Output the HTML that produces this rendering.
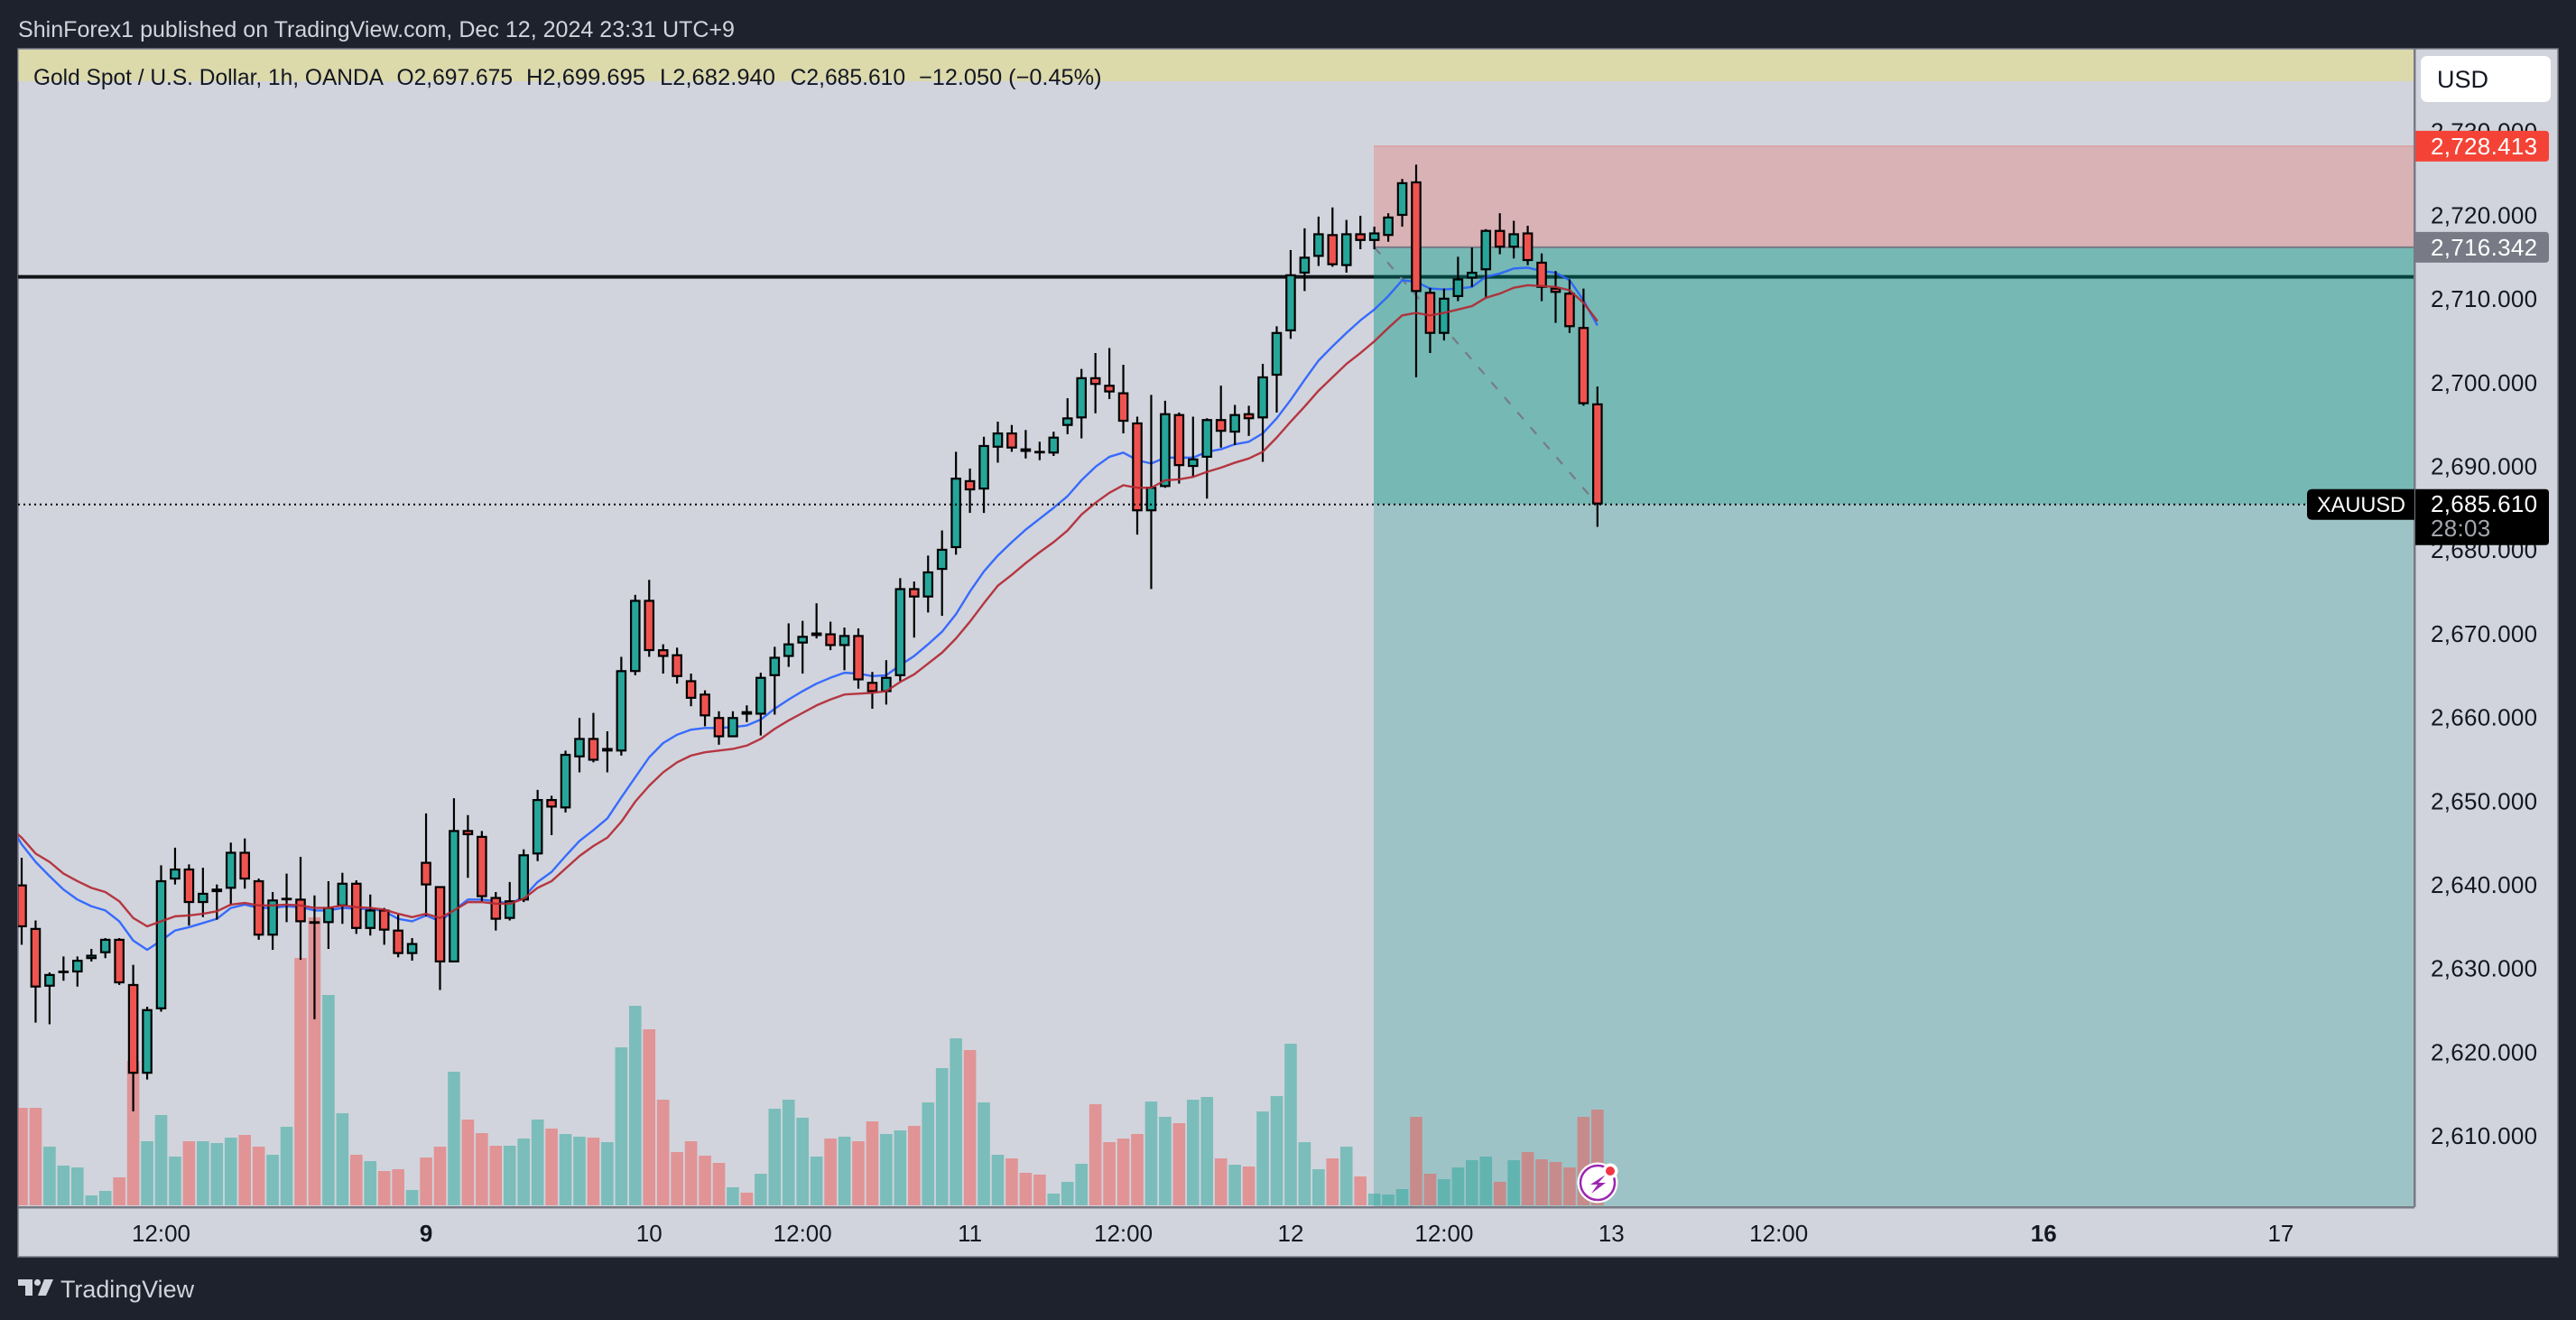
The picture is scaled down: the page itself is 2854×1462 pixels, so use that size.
<!DOCTYPE html>
<html lang="en">
<head>
<meta charset="utf-8">
<title>Gold Spot / U.S. Dollar chart</title>
<style>
html,body{margin:0;padding:0;background:#1e222d;width:2854px;height:1462px;overflow:hidden}
svg{display:block;position:absolute;left:0;top:0}
text{font-family:"Liberation Sans",sans-serif}
</style>
</head>
<body>
<svg id="chart" xmlns="http://www.w3.org/2000/svg" width="2854" height="1462" viewBox="0 0 2854 1462">
  <defs>
    <clipPath id="paneClip"><rect x="20" y="54" width="2655" height="1282"></rect></clipPath>
  </defs>
  <rect x="0" y="0" width="2854" height="1462" fill="#1e222d"></rect>
  <text x="20" y="41" font-size="25" fill="#d1d4dc" textLength="794" lengthAdjust="spacingAndGlyphs">ShinForex1 published on TradingView.com, Dec 12, 2024 23:31 UTC+9</text>
  <rect x="20" y="54" width="2814" height="1338" fill="#d1d4dc" stroke="#787b86" stroke-width="1.5"></rect>
  <rect x="20.5" y="55" width="2654" height="35" fill="#dcd9ab"></rect>
  <g id="paneLayer" clip-path="url(#paneClip)"></g>
  <rect x="20" y="1336" width="2655" height="2.5" fill="#787b86"></rect>
  <rect x="2674" y="54" width="2.5" height="1283" fill="#787b86"></rect>
  <g font-size="25" fill="#131722">
    <text x="37" y="94" textLength="388" lengthAdjust="spacingAndGlyphs">Gold Spot / U.S. Dollar, 1h, OANDA</text>
    <text x="439.5" y="94" textLength="128.5" lengthAdjust="spacingAndGlyphs">O2,697.675</text>
    <text x="583" y="94" textLength="132" lengthAdjust="spacingAndGlyphs">H2,699.695</text>
    <text x="731" y="94" textLength="128" lengthAdjust="spacingAndGlyphs">L2,682.940</text>
    <text x="875.6" y="94" textLength="127.5" lengthAdjust="spacingAndGlyphs">C2,685.610</text>
    <text x="1018" y="94" textLength="202.5" lengthAdjust="spacingAndGlyphs">−12.050 (−0.45%)</text>
  </g>
  <g id="axisLayer"></g>
  <g>
    <rect x="2682" y="62" width="144" height="51" rx="7" fill="#ffffff"></rect>
    <text x="2700" y="97" font-size="27" fill="#131722">USD</text>
  </g>
  <g id="labelLayer"></g>
  <g>
    <circle cx="1770" cy="1310" r="22.5" fill="#ffffff"></circle>
    <circle cx="1770" cy="1310" r="19" fill="none" stroke="#9c27b0" stroke-width="2.5"></circle>
    <polygon points="1779,1301 1762,1312 1770,1312 1763,1322 1779,1310 1771,1310" fill="#9c27b0"></polygon>
    <circle cx="1784" cy="1297" r="8.5" fill="#ffffff"></circle>
    <circle cx="1784" cy="1297" r="5" fill="#f23645"></circle>
  </g>
  <g>
    <polygon points="20,1417 36,1417 36,1435 28,1435 28,1424 20,1424" fill="#d1d4dc"></polygon>
    <circle cx="41.5" cy="1420.5" r="3.6" fill="#d1d4dc"></circle>
    <polygon points="49,1417 59,1417 51,1435 42,1435" fill="#d1d4dc"></polygon>
    <text x="67" y="1437" font-size="27" fill="#d1d4dc" textLength="148" lengthAdjust="spacingAndGlyphs">TradingView</text>
  </g>
</svg>
<script>
const candleOpen = [
2640.2,2635.0,2628.0,2629.8,2629.7,2631.3,2632.0,2633.7,2628.3,2617.6,
2625.3,2640.8,2642.1,2638.0,2639.3,2639.7,2644.1,2640.7,2634.1,2638.5,
2638.5,2635.8,2635.6,2637.6,2640.4,2634.9,2637.2,2634.8,2631.9,2642.9,
2640.0,2630.9,2646.7,2646.0,2638.7,2636.1,2638.3,2643.8,2650.4,2649.3,
2655.4,2657.7,2656.1,2656.1,2665.6,2674.2,2668.3,2667.7,2664.6,2663.0,
2660.2,2657.8,2660.9,2660.5,2665.1,2667.4,2669.0,2669.9,2670.2,2668.7,
2670.0,2664.4,2663.2,2665.1,2675.6,2674.5,2677.8,2680.4,2688.5,2687.4,
2692.4,2694.2,2692.3,2692.0,2691.7,2695.0,2695.9,2700.8,2699.9,2699.0,
2695.4,2684.8,2687.7,2696.4,2690.1,2691.2,2695.8,2694.2,2696.5,2695.9,
2701.0,2706.3,2713.2,2715.2,2717.9,2714.1,2718.0,2717.1,2717.7,2720.1,
2724.2,2711.0,2706.0,2710.4,2712.6,2713.6,2718.4,2716.3,2718.1,2714.6,
2711.5,2710.9,2706.8,2697.675];
const candleHigh = [
2643.4,2635.9,2629.7,2631.6,2631.6,2632.5,2633.8,2633.8,2630.6,2625.6,
2642.5,2644.6,2642.6,2642.2,2640.2,2645.2,2645.7,2640.9,2639.3,2641.5,
2643.5,2638.9,2640.6,2641.6,2640.7,2639.0,2637.4,2636.6,2633.8,2648.7,
2640.0,2650.5,2648.5,2646.6,2639.3,2640.5,2644.4,2651.5,2650.8,2656.2,
2660.1,2660.7,2658.5,2667.4,2674.8,2676.6,2668.9,2668.5,2665.4,2663.4,
2660.9,2660.9,2661.6,2665.5,2668.6,2671.4,2671.7,2673.8,2671.6,2670.9,
2670.8,2665.6,2667.0,2676.8,2676.4,2679.5,2682.5,2691.9,2689.9,2693.7,
2695.5,2695.1,2694.5,2693.1,2694.3,2698.3,2701.8,2703.7,2704.3,2702.3,
2696.1,2698.7,2698.0,2696.6,2696.1,2695.9,2699.8,2697.5,2697.4,2702.4,
2706.9,2716.0,2718.6,2720.0,2721.1,2719.6,2720.1,2718.8,2720.4,2724.5,
2726.2,2711.5,2711.4,2715.2,2716.3,2718.5,2720.4,2719.5,2718.9,2715.6,
2713.5,2712.5,2711.4,2699.695];
const candleLow = [
2633.0,2623.7,2623.5,2628.7,2628.0,2631.0,2631.4,2628.2,2613.1,2616.9,
2625.0,2640.2,2635.3,2636.3,2636.0,2637.7,2639.7,2633.6,2632.4,2635.7,
2631.2,2624.1,2632.5,2635.5,2634.3,2634.1,2633.0,2631.5,2631.1,2636.4,
2627.6,2630.9,2641.0,2638.2,2634.7,2635.9,2638.1,2643.0,2646.1,2648.8,
2653.6,2654.8,2653.6,2655.6,2665.2,2667.4,2665.4,2664.2,2661.5,2659.1,
2656.9,2657.8,2659.6,2658.0,2660.5,2666.2,2665.4,2669.6,2668.2,2665.8,
2663.6,2661.2,2661.7,2664.5,2669.7,2672.7,2672.3,2679.6,2684.6,2684.6,
2690.6,2691.9,2691.1,2690.9,2691.4,2694.0,2693.5,2696.5,2698.2,2694.1,
2682.0,2675.5,2687.6,2688.1,2688.9,2686.3,2692.4,2692.7,2693.8,2690.7,
2696.6,2705.4,2711.1,2714.1,2714.0,2713.3,2716.1,2716.1,2717.0,2718.8,
2700.8,2703.7,2705.2,2709.9,2711.6,2710.3,2715.5,2715.0,2714.2,2709.9,
2707.3,2706.1,2697.4,2682.94];
const candleClose = [
2635.1,2627.9,2629.5,2629.9,2631.2,2631.8,2633.7,2628.4,2617.6,2625.3,
2640.7,2642.1,2638.0,2639.2,2639.7,2644.1,2640.8,2634.1,2638.4,2638.6,
2635.7,2635.7,2637.5,2640.4,2634.9,2637.2,2634.7,2631.9,2633.2,2640.1,
2630.9,2646.7,2646.1,2638.7,2636.0,2638.3,2643.8,2650.4,2649.4,2655.8,
2657.7,2655.0,2656.5,2665.8,2674.2,2668.1,2667.4,2665.0,2662.4,2660.3,
2657.8,2660.2,2660.5,2665.0,2667.4,2669.0,2669.9,2670.3,2668.7,2670.0,
2664.6,2663.2,2665.0,2675.6,2674.5,2677.6,2680.3,2688.8,2687.3,2692.7,
2694.2,2692.3,2691.9,2691.9,2693.7,2696.0,2700.8,2699.9,2699.0,2695.5,
2684.8,2687.7,2696.5,2690.2,2691.1,2695.8,2694.3,2696.4,2695.8,2700.9,
2706.2,2713.1,2715.2,2718.0,2714.2,2718.0,2717.1,2718.1,2720.0,2724.1,
2711.0,2706.0,2710.3,2712.6,2713.4,2718.4,2716.3,2718.0,2714.7,2711.5,
2710.9,2706.8,2697.6,2685.61];
const volumeValues = [
108,108,65,44,42,11,16,31,160,71,
100,54,71,71,69,75,78,65,56,87,
274,319,233,102,56,49,38,40,17,53,
65,148,95,80,66,66,74,95,85,79,
76,75,70,175,221,195,117,59,71,55,
47,20,14,35,107,117,97,54,74,76,
71,93,79,83,88,114,152,185,172,114,
56,52,36,34,13,26,46,112,70,74,
79,115,98,91,117,120,52,45,43,104,
121,179,70,40,52,65,32,13,12,18,
98,35,29,42,50,54,26,50,59,51,
48,42,98,106];
/* The first EMA value belongs to the bar just left of the visible pane. */
const emaFast = [
2647.8,
2645.0,2642.9,2641.2,2639.6,2638.4,2637.6,2637.1,2635.8,2633.5,2632.4,
2633.5,2634.7,2635.1,2635.6,2636.1,2637.4,2637.8,2637.4,2637.4,2637.6,
2637.5,2637.1,2637.1,2637.4,2637.3,2637.3,2637.0,2636.1,2635.8,2636.5,
2635.8,2637.1,2638.4,2638.4,2638.2,2637.9,2638.7,2640.5,2641.7,2643.6,
2645.4,2646.7,2648.1,2650.6,2653.0,2655.4,2657.1,2658.1,2658.7,2658.9,
2658.9,2659.0,2659.2,2659.9,2661.2,2662.3,2663.3,2664.2,2664.9,2665.5,
2665.4,2665.1,2665.2,2666.4,2667.5,2668.9,2670.4,2672.5,2675.2,2677.6,
2679.5,2681.1,2682.6,2683.9,2685.2,2686.6,2688.5,2690.1,2691.3,2691.8,
2690.9,2690.5,2691.2,2691.2,2691.2,2691.9,2692.2,2692.8,2693.1,2694.1,
2695.9,2698.1,2700.5,2702.8,2704.5,2706.1,2707.6,2708.9,2710.5,2712.4,
2712.2,2711.4,2711.3,2711.4,2711.6,2712.8,2713.2,2713.8,2713.9,2713.5,
2713.3,2712.4,2710.0,2707.0];
const emaSlow = [
2647.2,
2645.8,2643.9,2642.9,2641.5,2640.6,2639.8,2639.3,2638.2,2636.2,2635.2,
2635.8,2636.4,2636.5,2636.7,2637.0,2637.8,2638.0,2637.7,2637.7,2637.8,
2637.7,2637.4,2637.4,2637.7,2637.5,2637.4,2637.2,2636.7,2636.3,2636.7,
2636.2,2637.1,2638.1,2638.1,2637.9,2637.9,2638.5,2639.8,2640.6,2642.1,
2643.6,2644.8,2645.8,2647.7,2650.1,2652.0,2653.6,2654.8,2655.6,2656.0,
2656.2,2656.4,2656.8,2657.6,2658.8,2659.8,2660.7,2661.6,2662.3,2662.9,
2663.0,2663.1,2663.3,2664.4,2665.3,2666.6,2667.9,2669.6,2671.6,2673.8,
2675.9,2677.2,2678.6,2679.9,2681.1,2682.5,2684.4,2685.8,2687.0,2687.9,
2687.6,2687.6,2688.5,2688.6,2688.9,2689.5,2690.0,2690.6,2691.1,2691.9,
2693.6,2695.5,2697.3,2699.2,2700.8,2702.4,2703.7,2705.1,2706.7,2708.2,
2708.5,2708.2,2708.5,2708.9,2709.3,2710.3,2710.8,2711.5,2711.8,2711.7,
2711.6,2711.2,2709.7,2707.5];
const priceTicks = [2730,2720,2710,2700,2690,2680,2670,2660,2650,2640,2630,2620,2610];
const timeLabels = ['12:00','9','10','12:00','11','12:00','12','12:00','13','12:00','16','17'];
const timeLabelBars = [10,29,45,56,68,79,91,102,114,126,145,162];
const weekStartLabels = ['9','16'];
const stopPrice = 2728.413;
const entryPrice = 2716.342;
const lastPrice = 2685.61;
const resistancePrice = 2712.8;
const positionStartBar = 97;
const positionEndBar = 113;

const SVG_NS = 'http://www.w3.org/2000/svg';
const paneLayer = document.getElementById('paneLayer');
const axisLayer = document.getElementById('axisLayer');
const labelLayer = document.getElementById('labelLayer');
const paneLeft = 20;
const paneRight = 2675;
const paneBottom = 1336;
const zoneLeft = 1522;

function priceY(p) { return 558.7 + (2685.61 - p) * 9.27; }
function barX(i) { return 24 + 15.45 * i; }
function volumeY(v) { return 1335 - v; }
function fmtPrice(p) { return p.toLocaleString('en-US', { minimumFractionDigits: 3, maximumFractionDigits: 3 }); }
function make(tag, parent, props) {
  const el = document.createElementNS(SVG_NS, tag);
  for (const k in props) el.setAttribute(k, props[k]);
  parent.appendChild(el);
  return el;
}

/* position tool zones */
const stopZone = make('rect', paneLayer, { x: zoneLeft, y: priceY(stopPrice), width: paneRight - zoneLeft, height: priceY(entryPrice) - priceY(stopPrice), fill: '#d9b2b6' });


const profitZone = make('rect', paneLayer, { x: zoneLeft, y: priceY(entryPrice), width: paneRight - zoneLeft, height: priceY(lastPrice) - priceY(entryPrice), fill: '#76b8b4' });


const targetZone = make('rect', paneLayer, { x: zoneLeft, y: priceY(lastPrice), width: paneRight - zoneLeft, height: paneBottom - priceY(lastPrice), fill: '#9ec3c6' });


const stopEdge = make('line', paneLayer, { x1: zoneLeft, x2: paneRight, y1: priceY(stopPrice), y2: priceY(stopPrice), stroke: '#d9a0a2', 'stroke-width': 1.5 });


const entryLine = make('line', paneLayer, { x1: zoneLeft, x2: paneRight, y1: priceY(entryPrice), y2: priceY(entryPrice), stroke: '#787b86', 'stroke-width': 2 });



/* horizontal level */
const levelLeft = make('line', paneLayer, { x1: paneLeft, x2: zoneLeft, y1: priceY(resistancePrice), y2: priceY(resistancePrice), stroke: '#111317', 'stroke-width': 4 });


const levelRight = make('line', paneLayer, { x1: zoneLeft, x2: paneRight, y1: priceY(resistancePrice), y2: priceY(resistancePrice), stroke: '#06423d', 'stroke-width': 4 });



/* trade path */
const tradePath = make('line', paneLayer, { x1: barX(positionStartBar), y1: priceY(entryPrice), x2: barX(positionEndBar), y2: priceY(lastPrice), stroke: '#787b86', 'stroke-width': 2.2, 'stroke-dasharray': '10 12' });



/* volume */
volumeValues.forEach(function (v, i) {
  const up = candleClose[i] >= candleOpen[i];
  const bar = make('rect', paneLayer, { x: barX(i) - 6.8, y: volumeY(v), width: 13.6, height: v, fill: up ? '#26a69a' : '#ef5350', 'fill-opacity': 0.5 });
  
  
});

function emaPoints(values) {
  return values.map(function (p, k) { return barX(k - 1).toFixed(2) + ',' + priceY(p).toFixed(2); }).join(' ');
}

/* fast EMA sits behind the candles */
const fastLine = make('polyline', paneLayer, { points: emaPoints(emaFast), fill: 'none', stroke: '#2962ff', 'stroke-width': 2.4, 'stroke-linejoin': 'round', opacity: 0.92 });



/* candles */
candleOpen.forEach(function (o, i) {
  const c = candleClose[i];
  const up = c >= o;
  const x = barX(i);
  const wick = make('line', paneLayer, { x1: x, x2: x, y1: priceY(candleHigh[i]), y2: priceY(candleLow[i]), stroke: '#000000', 'stroke-width': 2.2 });
  
  
  const top = priceY(Math.max(o, c)) + 1;
  const bottom = priceY(Math.min(o, c)) - 1;
  const body = make('rect', paneLayer, { x: x - 4.7, y: top, width: 9.4, height: Math.max(0.6, bottom - top), fill: up ? '#26a69a' : '#ef5350', stroke: '#000000', 'stroke-width': 2.2 });
  
  
});

/* slow EMA draws above the candles */
const slowLine = make('polyline', paneLayer, { points: emaPoints(emaSlow), fill: 'none', stroke: '#b22833', 'stroke-width': 2.4, 'stroke-linejoin': 'round', opacity: 0.92 });



/* last price dotted line */
const lastLine = make('line', paneLayer, { x1: paneLeft, x2: 2556, y1: priceY(lastPrice), y2: priceY(lastPrice), stroke: '#000000', 'stroke-width': 2, 'stroke-dasharray': '2 4' });



/* price axis ticks */
priceTicks.forEach(function (p) {
  const t = make('text', axisLayer, { x: 2693, y: priceY(p) + 7.5, 'font-size': 26, 'letter-spacing': 0.3, fill: '#131722' });
  
  
  t.textContent = fmtPrice(p);
});

/* time axis ticks */
timeLabels.forEach(function (label, i) {
  const t = make('text', axisLayer, { x: barX(timeLabelBars[i]), y: 1375, 'font-size': 26, 'text-anchor': 'middle', fill: '#131722', 'font-weight': weekStartLabels.indexOf(label) >= 0 ? 'bold' : 'normal' });
  
  
  t.textContent = label;
});

/* price badges */
function badgePath(x1, y1, x2, y2, r) {
  return 'M' + x1 + ' ' + y1 + 'H' + (x2 - r) + 'Q' + x2 + ' ' + y1 + ' ' + x2 + ' ' + (y1 + r) + 'V' + (y2 - r) + 'Q' + x2 + ' ' + y2 + ' ' + (x2 - r) + ' ' + y2 + 'H' + x1 + 'Z';
}
const stopBadge = make('path', labelLayer, { d: badgePath(2676, priceY(stopPrice) - 17, 2824, priceY(stopPrice) + 17, 4), fill: '#f44336' });


const stopText = make('text', labelLayer, { x: 2693, y: priceY(stopPrice) + 9, 'font-size': 26, 'letter-spacing': 0.3, fill: '#ffffff' });


stopText.textContent = fmtPrice(stopPrice);
const entryBadge = make('path', labelLayer, { d: badgePath(2676, priceY(entryPrice) - 17, 2824, priceY(entryPrice) + 17, 4), fill: '#787b86' });


const entryText = make('text', labelLayer, { x: 2693, y: priceY(entryPrice) + 9, 'font-size': 26, 'letter-spacing': 0.3, fill: '#ffffff' });


entryText.textContent = fmtPrice(entryPrice);
const lastBadge = make('path', labelLayer, { d: badgePath(2676, priceY(lastPrice) - 17, 2824, priceY(lastPrice) + 45, 4), fill: '#000000' });


const lastText = make('text', labelLayer, { x: 2693, y: priceY(lastPrice) + 8.5, 'font-size': 26, 'letter-spacing': 0.3, fill: '#ffffff' });


lastText.textContent = fmtPrice(lastPrice);
const countdown = make('text', labelLayer, { x: 2693, y: priceY(lastPrice) + 35.5, 'font-size': 26, 'letter-spacing': 0.3, fill: '#a3a6af' });


countdown.textContent = '28:03';
const symbolBadge = make('path', labelLayer, { d: 'M2675 ' + (priceY(lastPrice) - 17) + 'H2562Q2556 ' + (priceY(lastPrice) - 17) + ' 2556 ' + (priceY(lastPrice) - 11) + 'V' + (priceY(lastPrice) + 11) + 'Q2556 ' + (priceY(lastPrice) + 17) + ' 2562 ' + (priceY(lastPrice) + 17) + 'H2675Z', fill: '#000000' });


const symbolText = make('text', labelLayer, { x: 2567, y: priceY(lastPrice) + 8.5, 'font-size': 24, textLength: 98, lengthAdjust: 'spacingAndGlyphs', fill: '#ffffff' });


symbolText.textContent = 'XAUUSD';
</script>
</body>
</html>
